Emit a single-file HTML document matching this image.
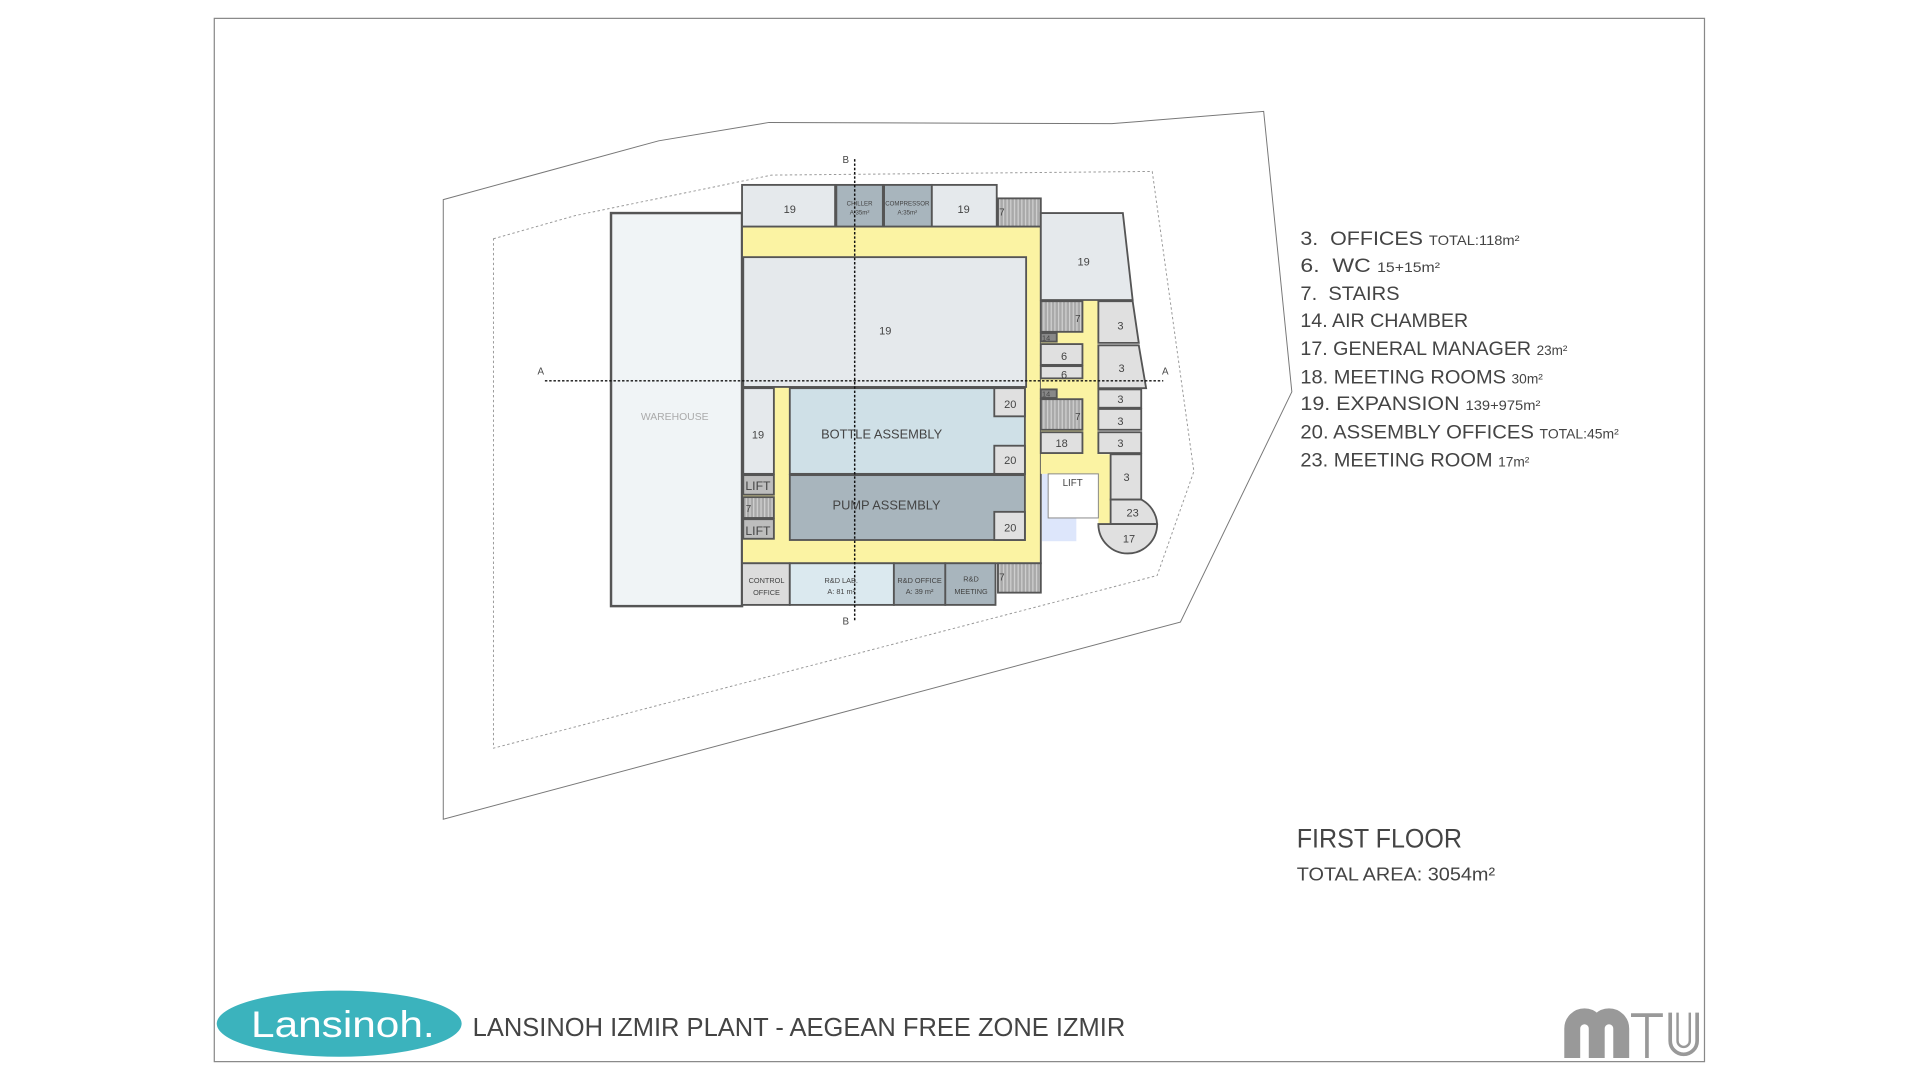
<!DOCTYPE html>
<html><head><meta charset="utf-8"><style>
html,body{margin:0;padding:0;background:#fff;}
svg{display:block;}
text{font-family:"Liberation Sans",sans-serif;fill:#444;}
</style></head><body>
<svg width="1920" height="1080" viewBox="0 0 1568 882" preserveAspectRatio="none">
<defs>
<pattern id="st" width="3" height="3" patternUnits="userSpaceOnUse"><rect width="3" height="3" fill="#a9a9a9"/><rect width="1" height="3" fill="#d0d0d0"/></pattern>
</defs>
<rect x="175" y="15" width="1217" height="852" fill="none" stroke="#888" stroke-width="1"/>
<polygon points="362,163 538,115 628,100 908,101 1032,91 1055,320 964,508 362,669" fill="none" stroke="#777" stroke-width="0.8"/>
<polygon points="403,195 470,176 630,143 941,140 975,385 945,470 403,611" fill="none" stroke="#999" stroke-width="0.8" stroke-dasharray="2,2"/>
<rect x="499" y="174" width="107" height="321" fill="#f0f4f6" stroke="#555" stroke-width="2"/>
<text x="551" y="343" font-size="8.5" text-anchor="middle" style="fill:#aaa">WAREHOUSE</text>
<rect x="606" y="185" width="244" height="275" fill="#fbf3a3" stroke="#555" stroke-width="1.5"/>
<g stroke="#555" stroke-width="1.5">
<rect x="606" y="151" width="76" height="34" fill="#e5e9ec"/>
<rect x="683" y="151" width="38" height="34" fill="#a8b5bd"/>
<rect x="722" y="151" width="39" height="34" fill="#a8b5bd"/>
<rect x="761" y="151" width="53" height="34" fill="#e5e9ec"/>
<rect x="815" y="162" width="35" height="23" fill="url(#st)"/>
<rect x="607" y="210" width="231" height="106" fill="#e5e9ec"/>
<rect x="607" y="317" width="25" height="70" fill="#e5e9ec"/>
<rect x="607" y="388" width="25" height="16" fill="#bdbdbd"/>
<rect x="607" y="406" width="25" height="17" fill="url(#st)"/>
<rect x="607" y="424" width="25" height="16" fill="#bdbdbd"/>
<rect x="645" y="317" width="192" height="70" fill="#cfe0e7"/>
<rect x="812" y="317" width="25" height="23" fill="#e0e0e0"/>
<rect x="812" y="364" width="25" height="23" fill="#e0e0e0"/>
<rect x="645" y="388" width="192" height="53" fill="#a8b5bd"/>
<rect x="812" y="418" width="25" height="23" fill="#e0e0e0"/>
<rect x="606" y="460" width="39" height="34" fill="#dcdcdc"/>
<rect x="645" y="460" width="85" height="34" fill="#dbe9ef"/>
<rect x="730" y="460" width="42" height="34" fill="#a8b5bd"/>
<rect x="772" y="460" width="41" height="34" fill="#a8b5bd"/>
<rect x="815" y="460" width="35" height="24" fill="url(#st)"/>
</g>
<polygon points="850,245 897,245 897,371 907,371 907,428 897,428 897,387 850,387" fill="#fbf3a3"/>
<rect x="851" y="387" width="28" height="55" fill="#dde6fb"/>
<rect x="856" y="387" width="41" height="36" fill="#fff" stroke="#888" stroke-width="0.8"/>
<g stroke="#555" stroke-width="1.5">
<polygon points="850,174 917,174 925,245 850,245" fill="#e5e9ec"/>
<rect x="850" y="246" width="34" height="25" fill="url(#st)"/>
<rect x="850" y="272" width="13" height="7" fill="#888"/>
<rect x="850" y="281" width="34" height="17" fill="#e0e0e0"/>
<rect x="850" y="299" width="34" height="10" fill="#e0e0e0"/>
<rect x="850" y="318" width="13" height="7" fill="#888"/>
<rect x="850" y="326" width="34" height="25" fill="url(#st)"/>
<rect x="850" y="353" width="34" height="17" fill="#e0e0e0"/>
<polygon points="897,246 925,246 930,280 897,280" fill="#e0e0e0"/>
<polygon points="897,282 930,282 936,317 897,317" fill="#e0e0e0"/>
<rect x="897" y="318" width="35" height="15" fill="#e0e0e0"/>
<rect x="897" y="334" width="35" height="17" fill="#e0e0e0"/>
<rect x="897" y="353" width="35" height="17" fill="#e0e0e0"/>
<rect x="907" y="371" width="25" height="37" fill="#e0e0e0"/>
<path d="M907,408 H932 A24,24 0 0 1 945,428 H907 Z" fill="#e0e0e0"/>
<path d="M897,428 H945 A24,24 0 0 1 897,428 Z" fill="#e0e0e0"/>
</g>
<line x1="445" y1="311" x2="950" y2="311" stroke="#111" stroke-width="1.2" stroke-dasharray="2,1.5"/>
<line x1="698" y1="130" x2="698" y2="507" stroke="#111" stroke-width="1.2" stroke-dasharray="2,1.5"/>
<g font-size="8">
<text x="439" y="306">A</text><text x="949" y="306">A</text>
<text x="688" y="133">B</text><text x="688" y="510">B</text>
</g>
<g font-size="9" text-anchor="middle">
<text x="645" y="174">19</text><text x="787" y="174">19</text>
<text x="723" y="273">19</text><text x="619" y="358">19</text>
<text x="885" y="217">19</text>
<text x="825" y="333">20</text><text x="825" y="379">20</text><text x="825" y="434">20</text>
<text x="869" y="294">6</text><text x="869" y="309">6</text>
<text x="867" y="365">18</text>
<text x="915" y="269">3</text><text x="916" y="304">3</text><text x="915" y="329">3</text>
<text x="915" y="347">3</text><text x="915" y="365">3</text><text x="920" y="393">3</text>
<text x="925" y="422">23</text><text x="922" y="443">17</text>
<text x="619" y="400" font-size="10">LIFT</text><text x="619" y="437" font-size="10">LIFT</text>
<text x="876" y="397" font-size="8">LIFT</text>
<text x="720" y="358" font-size="10.5">BOTTLE ASSEMBLY</text>
<text x="724" y="416" font-size="10.5">PUMP ASSEMBLY</text>
</g>
<g font-size="6" text-anchor="middle">
<text x="702" y="168" font-size="5">CHILLER</text><text x="702" y="175" font-size="5">A:35m²</text>
<text x="741" y="168" font-size="5">COMPRESSOR</text><text x="741" y="175" font-size="5">A:35m²</text>
<text x="626" y="476">CONTROL</text><text x="626" y="486">OFFICE</text>
<text x="687" y="476">R&amp;D LAB.</text><text x="687" y="485">A: 81 m²</text>
<text x="751" y="476">R&amp;D OFFICE</text><text x="751" y="485">A: 39 m²</text>
<text x="793" y="475">R&amp;D</text><text x="793" y="485">MEETING</text>
</g>
<g font-size="8"><text x="816" y="176">7</text><text x="878" y="263">7</text><text x="878" y="343">7</text><text x="609" y="418">7</text><text x="816" y="474">7</text>
<text x="851" y="278" font-size="6">14</text><text x="851" y="324" font-size="6">14</text></g>
<g font-size="16">
<text x="1062" y="200" textLength="179" lengthAdjust="spacingAndGlyphs">3.&#160;&#160;OFFICES <tspan font-size="11">TOTAL:118m²</tspan></text>
<text x="1062" y="222" textLength="114" lengthAdjust="spacingAndGlyphs">6.&#160;&#160;WC <tspan font-size="11">15+15m²</tspan></text>
<text x="1062" y="245" textLength="81" lengthAdjust="spacingAndGlyphs">7.&#160;&#160;STAIRS</text>
<text x="1062" y="267" textLength="137" lengthAdjust="spacingAndGlyphs">14. AIR CHAMBER</text>
<text x="1062" y="290" textLength="218" lengthAdjust="spacingAndGlyphs">17. GENERAL MANAGER <tspan font-size="11">23m²</tspan></text>
<text x="1062" y="313" textLength="198" lengthAdjust="spacingAndGlyphs">18. MEETING ROOMS <tspan font-size="11">30m²</tspan></text>
<text x="1062" y="335" textLength="196" lengthAdjust="spacingAndGlyphs">19. EXPANSION <tspan font-size="11">139+975m²</tspan></text>
<text x="1062" y="358" textLength="260" lengthAdjust="spacingAndGlyphs">20. ASSEMBLY OFFICES <tspan font-size="11">TOTAL:45m²</tspan></text>
<text x="1062" y="381" textLength="187" lengthAdjust="spacingAndGlyphs">23. MEETING ROOM <tspan font-size="11">17m²</tspan></text>
</g>
<text x="1059" y="692" font-size="22" textLength="135" lengthAdjust="spacingAndGlyphs">FIRST FLOOR</text>
<text x="1059" y="719" font-size="15" textLength="162" lengthAdjust="spacingAndGlyphs">TOTAL AREA: 3054m²</text>
<ellipse cx="277" cy="836" rx="100" ry="27" fill="#3bb3bd"/>
<text x="280" y="847" font-size="30" text-anchor="middle" style="fill:#fff" textLength="150" lengthAdjust="spacingAndGlyphs">Lansinoh.</text>
<text x="386" y="846" font-size="21" textLength="533" lengthAdjust="spacingAndGlyphs">LANSINOH IZMIR PLANT - AEGEAN FREE ZONE IZMIR</text>
<g fill="none" stroke="#999">
<path d="M1284,864 V840 a10,10 0 0 1 20,0 V864 M1304,840 a10,10 0 0 1 20,0 V864" stroke-width="13"/>
<path d="M1332,829 H1358 M1345,829 V864" stroke-width="3"/>
<path d="M1364,827 V850 a11,11 0 0 0 22,0 V827" stroke-width="3"/>
<path d="M1370,827 V850 a5,5 0 0 0 10,0 V827" stroke-width="2"/>
</g>
</svg>
</body></html>
